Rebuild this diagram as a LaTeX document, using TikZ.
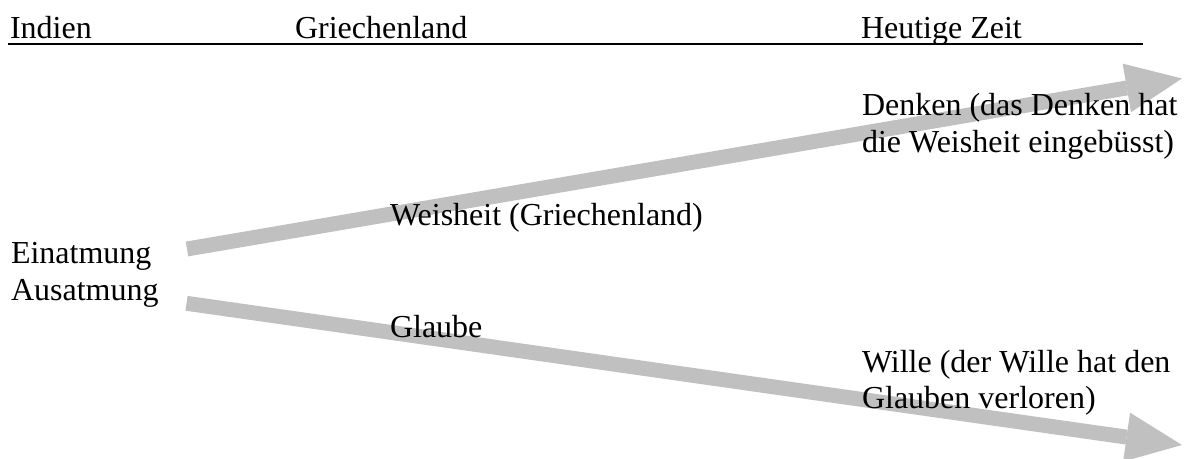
\documentclass[tikz,border=0pt]{standalone}
\usepackage{fontspec}
\setmainfont{Liberation Serif}
\usetikzlibrary{arrows.meta}
\definecolor{arrowgray}{RGB}{192,192,192}
\tikzset{
  txt/.style={anchor=base west, inner sep=0pt, outer sep=0pt, font=\fontsize{12}{13.8}\selectfont},
  bigarrow/.style={draw=arrowgray, line width=5.6pt,
    -{Triangle[length=21pt, width=18.5pt, line width=0pt]}},
  ulin/.style={draw=black, line width=0.6pt}
}
\begin{document}
\begin{tikzpicture}[x=0.375pt, y=-0.375pt]
\useasboundingbox (0,0) rectangle (1185,459);
% arrow end points
\coordinate (upS) at (187,249);
\coordinate (upE) at (1182,78.5);
\coordinate (loS) at (186.5,303.3);
\coordinate (loE) at (1182,445);
\draw[bigarrow] (upS) -- (upE);
\draw[bigarrow] (loS) -- (loE);
% header
\node[txt] (indien) at (10,39) {Indien};
\node[txt] (griech) at (295,39) {Griechenland};
\node[txt] (heute) at (861,39) {Heutige Zeit};
\coordinate (ulA) at (8,44);
\coordinate (ulB) at (1143,44);
\draw[ulin] (ulA) -- (ulB);
% right column
\node[txt] (denken1) at (862,116) {Denken (das Denken hat};
\node[txt] (denken2) at (862,153) {die Weisheit eingebüsst)};
\node[txt] (wille1) at (862,372) {Wille (der Wille hat den};
\node[txt] (wille2) at (862,408) {Glauben verloren)};
% middle
\node[txt] (weisheit) at (390,225) {Weisheit (Griechenland)};
\node[txt] (glaube) at (390,337) {Glaube};
% left
\node[txt] (ein) at (11,263) {Einatmung};
\node[txt] (aus) at (11,300) {Ausatmung};
\end{tikzpicture}
\end{document}
